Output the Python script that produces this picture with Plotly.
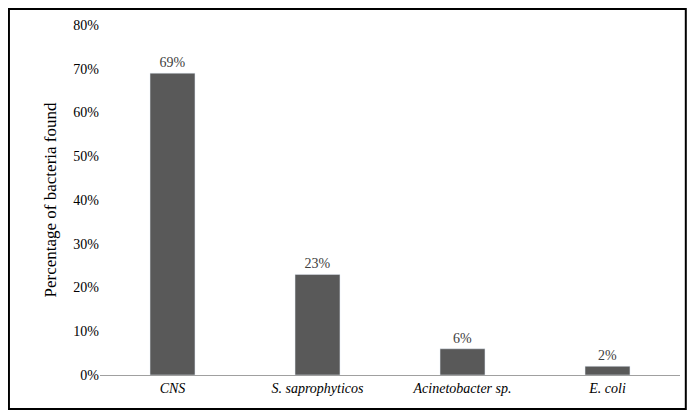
import plotly.graph_objects as go

bacteria = ["<i>CNS</i>", "<i>S. saprophyticos</i>", "<i>Acinetobacter sp.</i>", "<i>E. coli</i>"]
share = [0.69, 0.23, 0.06, 0.02]
labels = ["69%", "23%", "6%", "2%"]

fig = go.Figure()
fig.add_bar(x=bacteria, y=share, text=labels, textposition="outside",
            marker_color="#595959", textfont=dict(size=14, color="#404040"),
            cliponaxis=False)

fig.update_layout(
    width=679, height=402,
    margin=dict(l=92, r=7, t=17, b=35),
    plot_bgcolor="white", paper_bgcolor="white",
    font=dict(family="Liberation Serif", size=14, color="black"),
    bargap=0.69, showlegend=False,
    shapes=[dict(type="rect", xref="paper", yref="paper", x0=-0.157, x1=1.01,
                 y0=-0.097, y1=1.046, line=dict(color="black", width=2))],
)
fig.update_yaxes(range=[0, 0.8], dtick=0.1, tickformat=".0%", showgrid=False,
                 zeroline=False, showline=False, ticks="",
                 title=dict(text="Percentage of bacteria found", font=dict(size=17), standoff=12))
fig.update_xaxes(showline=True, linecolor="#a0a0a0", linewidth=1, ticks="",
                 tickfont=dict(size=14))

fig.write_html("out.html")
